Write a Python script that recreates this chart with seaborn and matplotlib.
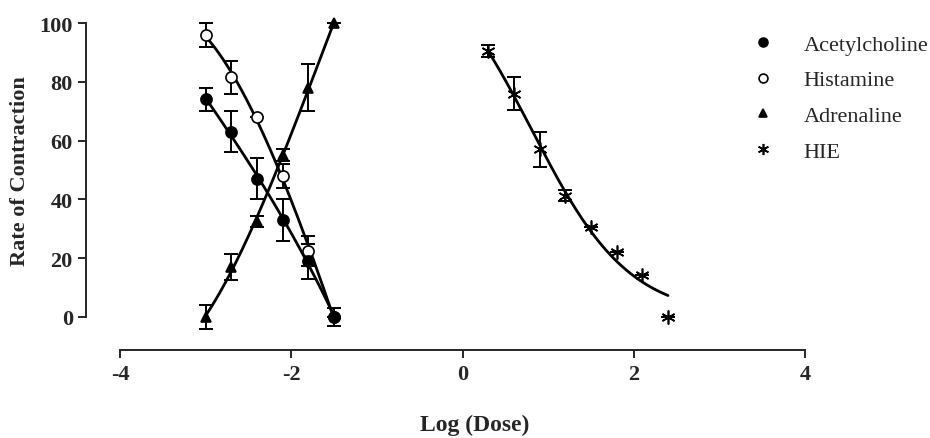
import numpy as np
import pandas as pd
import matplotlib
matplotlib.use("Agg")
import matplotlib.pyplot as plt
import seaborn as sns

# log dose values
dose_ach = [-3.0, -2.7, -2.4, -2.1, -1.8, -1.5]
dose_hie = [0.3, 0.6, 0.9, 1.2, 1.5, 1.8, 2.1, 2.4]

# mean rate of contraction and error
ach = [74, 63, 47, 33, 19, 0]
ach_err = [4, 7, 7, 7, 6, 3]
hist = [96, 81.5, 68, 48, 22.5, 0]
hist_err = [4, 5.5, 0, 4, 5, 0]
adr = [0, 17, 32.5, 55, 78, 100]
adr_err = [4, 4.5, 2, 2, 8, 0]
hie = [90.5, 76, 57, 41.3, 30.6, 22, 14.3, 0]
hie_err = [2, 5.5, 6, 2, 0, 0, 0, 0]

series = {
    "Acetylcholine": (dose_ach, ach, ach_err),
    "Histamine": (dose_ach, hist, hist_err),
    "Adrenaline": (dose_ach, adr, adr_err),
    "HIE": (dose_hie, hie, hie_err),
}
markers = {"Acetylcholine": "o", "Histamine": "o", "Adrenaline": "^", "HIE": (6, 2, 0)}
faces = {"Acetylcholine": "black", "Histamine": "white", "Adrenaline": "black", "HIE": "black"}
sizes = {"Acetylcholine": 8, "Histamine": 8, "Adrenaline": 7.5, "HIE": 10}


def logistic(p, x):
    t, c, h = p
    # bottom held at 0
    return t / (1 + 10 ** ((x - c) * h))


def fit_logistic(x, y, p0, n_iter=300):
    # small Levenberg-Marquardt fit of a dose-response curve
    x = np.asarray(x, float)
    y = np.asarray(y, float)
    p = np.asarray(p0, float)
    k = len(p)
    lam = 1e-2
    for _ in range(n_iter):
        r = y - logistic(p, x)
        J = np.empty((len(x), k))
        for i in range(k):
            dp = np.zeros(k)
            dp[i] = 1e-6 * max(1, abs(p[i]))
            J[:, i] = (logistic(p + dp, x) - logistic(p, x)) / dp[i]
        A = J.T @ J
        step = np.linalg.solve(A + lam * np.diag(np.diag(A)), J.T @ r)
        new = p + step
        if np.sum((y - logistic(new, x)) ** 2) < np.sum(r ** 2):
            p, lam = new, lam * 0.5
        else:
            lam *= 4
    return p


sns.set_style("ticks")
plt.rcParams["font.family"] = ["Liberation Serif", "DejaVu Serif"]
plt.rcParams["axes.unicode_minus"] = False

fig = plt.figure(figsize=(9.3, 4.39), dpi=100)
ax = fig.add_axes([120 / 930, 121 / 439, 685 / 930, 294 / 439])

# smooth curves from the data
curves = []
for name, (x, y, e) in series.items():
    xs = np.linspace(min(x), max(x), 150)
    if name == "HIE":
        p = fit_logistic(x, y, [100, 1.0, 1.0])
        ys = logistic(p, xs)
    else:
        ys = np.polyval(np.polyfit(x, y, 3), xs)
    curves.append(pd.DataFrame({"dose": xs, "rate": ys, "drug": name}))
curves = pd.concat(curves)
sns.lineplot(data=curves, x="dose", y="rate", units="drug", estimator=None,
             color="black", lw=2.0, ax=ax, legend=False)

handles = {}
for name in ["Histamine", "Adrenaline", "HIE", "Acetylcholine"]:
    x, y, e = series[name]
    eb = ax.errorbar(x, y, yerr=e, fmt="none", ecolor="black", elinewidth=1.4,
                     capsize=5, capthick=1.4, clip_on=False, zorder=3)
    for a in eb.lines[1] + eb.lines[2]:
        a.set_clip_on(False)
    handles[name] = ax.plot(x, y, ls="none", marker=markers[name], ms=sizes[name],
                            mfc=faces[name], mec="black", mew=1.2, clip_on=False,
                            zorder=4, label=name)[0]

order = ["Acetylcholine", "Histamine", "Adrenaline", "HIE"]
ax.legend([handles[n] for n in order], order, loc="upper left",
          bbox_to_anchor=(606 / 685, 1.03), frameon=False, fontsize=16,
          handletextpad=1.1, labelspacing=0.68, markerscale=0.8,
          handlelength=1.5)

ax.set_xlim(-4, 4)
ax.set_ylim(0, 100)
ax.set_xticks([-4, -2, 0, 2, 4])
ax.set_yticks([0, 20, 40, 60, 80, 100])
sns.despine(ax=ax)
ax.spines["left"].set_position(("outward", 24.5))
ax.spines["bottom"].set_position(("outward", 24))
for s in ["left", "bottom"]:
    ax.spines[s].set_linewidth(1.4)
ax.tick_params(width=1.4, length=5.5, labelsize=16, pad=4)
for lab in ax.get_xticklabels() + ax.get_yticklabels():
    lab.set_fontweight("bold")

ax.set_xlabel("Log (Dose)", fontsize=17, fontweight="bold")
ax.xaxis.set_label_coords(355 / 685, -97 / 294)
ax.set_ylabel("Rate of Contraction", fontsize=16, fontweight="bold", labelpad=7)

fig.savefig("out.png", dpi=100)
